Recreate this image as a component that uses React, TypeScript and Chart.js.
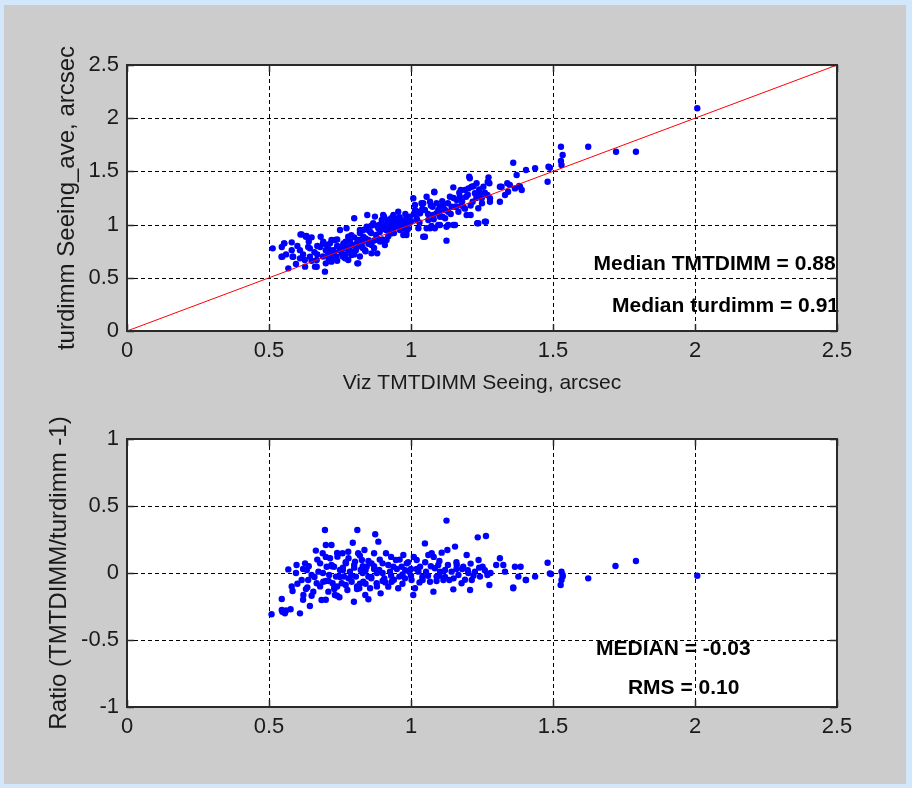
import React, { useEffect, useRef } from "react";
import { Chart, registerables } from "chart.js";
Chart.register(...registerables);

// ---------- data ----------
const xTickValues = [0, 0.5, 1, 1.5, 2, 2.5];
const topYTickValues = [0, 0.5, 1, 1.5, 2, 2.5];
const ratioYTickValues = [-1, -0.5, 0, 0.5, 1];

// Viz TMTDIMM seeing (x) and turdimm seeing_ave (y), arcsec
const tmtSeeing = [
  0.513, 0.545, 0.554, 0.547, 0.58, 0.568, 0.583, 0.595, 0.611, 0.609, 0.609, 0.63, 0.65, 0.638, 0.627, 0.644,
  0.662, 0.668, 0.682, 0.68, 0.697, 0.7, 0.691, 0.709, 0.715, 0.72, 0.726, 0.732, 0.738, 0.75, 0.748, 0.756,
  0.762, 0.768, 0.773, 0.779, 0.785, 0.791, 0.8, 0.797, 0.806, 0.811, 0.814, 0.82, 0.826, 0.832, 0.838, 0.844,
  0.846, 0.85, 0.856, 0.861, 0.867, 0.873, 0.877, 0.881, 0.885, 0.891, 0.897, 0.902, 0.908, 0.912, 0.917, 0.924,
  0.932, 0.938, 0.947, 0.955, 0.961, 0.967, 0.973, 0.979, 0.985, 0.994, 1.008, 1.014, 1.02, 1.026, 1.032, 1.037,
  1.043, 1.049, 1.055, 1.061, 1.067, 1.076, 1.082, 1.084, 1.09, 1.096, 1.102, 1.111, 1.12, 1.125, 1.131, 1.137,
  1.143, 1.149, 1.155, 1.161, 1.167, 1.175, 1.184, 1.194, 1.202, 1.205, 1.21, 1.217, 1.225, 1.231, 1.237, 1.237,
  1.243, 1.249, 1.255, 1.26, 1.269, 1.273, 1.276, 1.278, 1.313, 1.319, 1.331, 1.339, 1.36, 1.366, 1.372, 1.381,
  1.39, 1.405, 1.437, 1.484, 1.481, 2.008, 1.528, 1.534, 1.528, 1.53, 1.489, 1.624, 1.722, 1.792,
  0.544, 0.553, 0.585, 0.615, 0.632, 0.626, 0.644, 0.668, 0.703, 0.72, 0.732, 0.761, 0.773, 0.779, 0.814, 0.82,
  0.832, 0.861, 0.885, 0.905, 0.914, 0.938, 0.984, 0.984,
  1.384, 1.348, 1.342, 1.313, 1.278, 1.272, 1.264, 1.233, 1.207, 1.213, 1.172, 1.19, 1.196, 1.082, 1.125, 1.149,
  1.102, 1.072, 1.049, 1.055, 1.014, 1.043, 1.067, 1.096, 1.114, 1.131, 1.155, 1.178, 1.026, 0.996, 0.979, 0.984,
  0.973, 1.02, 1.078, 1.102,
  0.71, 0.74, 0.76, 0.79, 0.81, 0.83, 0.84, 0.86, 0.87, 0.89, 0.9, 0.92, 0.72, 0.74, 0.78, 0.8, 0.82, 0.85, 0.88,
  0.94, 0.96, 0.99, 0.95, 0.93,
  0.66, 0.67, 0.69, 0.7, 0.71, 0.73, 0.74, 0.75, 0.77, 0.77, 0.78, 0.79, 0.8, 0.81, 0.82, 0.83, 0.84, 0.85, 0.86,
  0.87, 0.88, 0.89, 0.9, 0.91, 0.92, 0.93, 0.94, 0.95, 0.96, 0.97, 0.98, 0.99, 1.0, 1.01, 1.03, 1.04, 1.06, 1.07,
  1.08, 1.09, 1.1, 1.11, 1.12, 1.13, 1.14, 1.15, 1.16, 1.17, 1.18, 1.19, 1.2, 1.21, 1.22, 1.23, 1.24, 1.25, 1.26,
  1.27, 0.6, 0.62, 0.64, 0.65, 0.67, 0.69, 0.58, 0.56,
];
const turSeeing = [
  0.777, 0.79, 0.824, 0.699, 0.833, 0.589, 0.699, 0.63, 0.908, 0.76, 0.683, 0.886, 0.88, 0.79, 0.605, 0.699,
  0.605, 0.667, 0.886, 0.79, 0.558, 0.636, 0.84, 0.73, 0.824, 0.652, 0.76, 0.855, 0.699, 0.949, 0.79, 0.73,
  0.824, 0.683, 0.777, 0.886, 0.84, 0.714, 1.059, 0.808, 0.76, 0.636, 0.855, 0.949, 0.808, 0.886, 0.76, 0.98,
  1.09, 0.855, 0.933, 0.808, 1.012, 1.075, 0.902, 0.73, 0.965, 0.84, 1.043, 1.09, 0.808, 0.949, 1.043, 0.98,
  0.918, 1.08, 1.012, 1.121, 0.949, 1.043, 0.902, 0.98, 1.075, 1.012, 1.247, 1.137, 1.059, 0.965, 1.106, 1.2,
  0.886, 1.137, 1.262, 1.043, 0.965, 1.168, 1.303, 0.965, 1.106, 0.996, 1.168, 1.075, 1.137, 0.849, 0.996, 1.262,
  1.168, 1.35, 0.996, 1.231, 1.121, 1.325, 1.168, 1.262, 1.34, 1.45, 1.09, 1.215, 1.294, 1.388, 1.153, 1.012,
  1.294, 1.247, 1.356, 1.028, 1.278, 1.444, 1.388, 1.215, 1.215, 1.356, 1.278, 1.388, 1.582, 1.34, 1.466, 1.363,
  1.325, 1.513, 1.529, 1.544, 1.403, 2.093, 1.732, 1.654, 1.598, 1.56, 1.535, 1.732, 1.685, 1.685,
  0.698, 0.824, 0.698, 0.908, 0.893, 0.667, 0.777, 0.604, 0.808, 0.855, 0.698, 0.777, 0.965, 0.667, 0.636, 0.855,
  0.949, 0.73, 0.855, 1.075, 0.855, 1.09, 1.027, 0.902,
  1.356, 1.372, 1.309, 1.356, 1.247, 1.404, 1.027, 1.012, 1.435, 1.356, 1.262, 1.325, 1.09, 1.309, 0.98, 0.996,
  0.996, 0.987, 0.886, 0.965, 1.184, 1.2, 1.215, 1.137, 1.184, 1.121, 1.168, 1.184, 1.121, 1.074, 1.012, 0.933,
  0.965, 1.043, 1.09, 1.074,
  0.77, 0.8, 0.7, 0.75, 0.83, 0.78, 0.87, 0.92, 0.85, 0.93, 0.96, 0.89, 0.71, 0.66, 0.8, 0.88, 0.92, 0.95, 0.99,
  0.97, 1.0, 1.05, 1.05, 1.02,
  0.74, 0.8, 0.7, 0.76, 0.68, 0.74, 0.86, 0.76, 0.72, 0.84, 0.76, 0.9, 0.72, 0.79, 0.7, 0.84, 0.75, 0.82, 0.99,
  0.78, 0.87, 1.0, 0.86, 1.0, 0.95, 1.06, 0.92, 0.99, 1.07, 1.02, 1.1, 0.96, 1.03, 1.1, 1.02, 1.15, 1.1, 1.18,
  1.05, 1.2, 1.12, 1.22, 1.06, 1.2, 1.1, 1.25, 1.17, 1.3, 1.22, 1.15, 1.28, 1.18, 1.36, 1.25, 1.33, 1.2, 1.3,
  1.4, 0.8, 0.72, 0.84, 0.66, 0.72, 0.82, 0.76, 0.72,
];

// Ratio panel: x = TMTDIMM seeing, y = TMTDIMM/turdimm - 1
const ratioSeeing = [
  0.509, 0.545, 0.55, 0.545, 0.556, 0.576, 0.568, 0.583, 0.595, 0.597, 0.609, 0.615, 0.621, 0.627, 0.633, 0.635,
  0.638, 0.644, 0.65, 0.656, 0.665, 0.668, 0.674, 0.68, 0.685, 0.689, 0.691, 0.697, 0.7, 0.703, 0.709, 0.712,
  0.715, 0.72, 0.724, 0.729, 0.732, 0.736, 0.741, 0.748, 0.75, 0.756, 0.759, 0.764, 0.771, 0.776, 0.779, 0.785,
  0.791, 0.795, 0.799, 0.803, 0.806, 0.811, 0.814, 0.818, 0.823, 0.827, 0.832, 0.836, 0.839, 0.844, 0.85, 0.85,
  0.856, 0.861, 0.87, 0.874, 0.879, 0.885, 0.888, 0.893, 0.9, 0.906, 0.912, 0.92, 0.926, 0.932, 0.938, 0.947,
  0.955, 0.959, 0.967, 0.973, 0.979, 0.985, 0.994, 1.002, 1.008, 1.014, 1.02, 1.026, 1.032, 1.041, 1.049, 1.053,
  1.061, 1.067, 1.073, 1.079, 1.084, 1.09, 1.096, 1.102, 1.108, 1.114, 1.12, 1.125, 1.128, 1.135, 1.143, 1.149,
  1.155, 1.161, 1.167, 1.178, 1.184, 1.196, 1.202, 1.208, 1.214, 1.225, 1.235, 1.238, 1.243, 1.252, 1.264, 1.269,
  1.276, 1.313, 1.325, 1.331, 1.36, 1.366, 1.378, 1.386, 1.405, 1.437, 1.481, 1.493, 1.53, 1.53, 1.527, 1.534,
  1.624, 1.72, 1.792, 2.008, 1.489, 1.534, 1.404, 1.36,
  0.7, 0.72, 0.74, 0.76, 0.78, 0.8, 0.82, 0.84, 0.86, 0.88, 0.9, 0.73, 0.77, 0.81, 0.83, 0.87, 0.93, 0.97, 1.0,
  1.04, 1.1, 1.16, 1.2,
  0.6, 0.62, 0.63, 0.64, 0.66, 0.67, 0.68, 0.69, 0.7, 0.71, 0.72, 0.73, 0.74, 0.75, 0.76, 0.77, 0.78, 0.79, 0.8,
  0.81, 0.82, 0.83, 0.84, 0.85, 0.86, 0.87, 0.88, 0.89, 0.9, 0.91, 0.92, 0.93, 0.94, 0.95, 0.96, 0.97, 0.98, 0.99,
  1.0, 1.01, 1.02, 1.03, 1.05, 1.06, 1.07, 1.08, 1.09, 1.1, 1.12, 1.13, 1.15, 1.16, 1.18, 1.19, 1.21, 1.22, 1.24,
  1.26, 1.28, 1.3, 0.65, 0.7, 0.58, 0.62, 0.74, 0.547, 0.56,
];
const ratioValue = [
  -0.308, -0.194, -0.288, -0.276, -0.301, -0.271, 0.027, -0.134, 0.0, 0.06, -0.301, -0.052, -0.164, 0.072, 0.022, -0.107,
  -0.052, -0.246, -0.015, -0.139, 0.167, -0.077, 0.01, 0.072, -0.201, 0.147, -0.065, 0.321, 0.209, 0.047, -0.139, -0.015,
  0.11, 0.209, -0.077, 0.047, -0.164, -0.027, 0.122, -0.181, 0.022, -0.077, 0.147, -0.027, 0.072, -0.127, 0.159, 0.01,
  -0.065, 0.226, -0.214, 0.085, -0.027, 0.321, 0.147, -0.114, 0.022, 0.097, -0.065, 0.172, -0.164, 0.047, -0.027, -0.196,
  -0.114, 0.072, 0.147, 0.289, -0.077, 0.234, 0.022, -0.152, 0.072, -0.04, 0.147, -0.102, 0.01, -0.065, 0.047, 0.097,
  -0.114, -0.027, 0.047, 0.134, -0.04, 0.072, 0.01, -0.052, -0.164, -0.114, 0.097, 0.01, 0.047, -0.052, 0.221, 0.01,
  0.134, -0.065, 0.147, -0.139, 0.035, -0.027, 0.06, 0.01, 0.152, -0.052, 0.022, 0.391, 0.172, -0.052, 0.01, -0.122,
  0.197, 0.06, -0.015, -0.077, 0.047, 0.134, 0.0, -0.127, -0.052, 0.01, 0.266, 0.097, -0.027, 0.047, 0.276, -0.015,
  -0.089, 0.11, 0.06, 0.01, -0.114, 0.047, -0.027, 0.047, -0.052, -0.027, 0.077, -0.007, 0.01, -0.052, -0.089, -0.027,
  -0.04, 0.052, 0.09, -0.02, -0.003, -0.015, -0.052, -0.107,
  -0.06, 0.05, -0.1, 0.02, -0.04, 0.04, -0.08, 0.02, -0.03, 0.0, -0.06, -0.12, 0.08, -0.1, 0.05, 0.03, -0.02, -0.01, 0.03,
  -0.03, -0.02, 0.03, 0.02,
  -0.08, 0.03, -0.12, 0.05, -0.03, 0.1, -0.1, 0.0, 0.12, -0.06, 0.06, -0.11, 0.15, -0.03, 0.04, -0.09, 0.11, -0.02, 0.06,
  -0.12, 0.13, 0.0, -0.08, 0.09, -0.04, 0.05, -0.1, 0.1, 0.0, -0.07, 0.06, 0.12, -0.05, 0.03, 0.1, -0.08, 0.02, 0.08,
  -0.02, 0.12, 0.03, -0.07, 0.08, -0.02, 0.05, 0.12, -0.06, 0.09, -0.03, 0.06, -0.04, 0.08, 0.03, -0.05, 0.07, -0.02, 0.04,
  0.02, 0.0, 0.06, -0.17, -0.2, -0.1, -0.2, -0.17, -0.29, -0.28,
];

const identityLine = [0, 2.5];

const topNotes = ["Median TMTDIMM = 0.88", "Median turdimm = 0.91"];
const topNoteX = [2.495, 2.507];
const topNoteY = [0.63, 0.235];
const ratioNotes = ["MEDIAN = -0.03", "RMS = 0.10"];
const ratioNoteX = [1.924, 1.96];
const ratioNoteY = [-0.567, -0.858];

// ---------- styling ----------
const SANS = "'Liberation Sans',Arial,Helvetica,sans-serif";
const TEXT = "#1a1a1a";

const framePlugin = {
  id: "frame",
  beforeDraw(chart: any) {
    const { ctx, chartArea } = chart;
    const { left, top, right, bottom } = chartArea;
    ctx.save();
    ctx.fillStyle = "#ffffff";
    ctx.fillRect(left, top, right - left, bottom - top);
    ctx.restore();
  },
  beforeDatasetsDraw(chart: any) {
    const { ctx, chartArea, scales } = chart;
    const { left, top, right, bottom } = chartArea;
    ctx.save();
    ctx.strokeStyle = "#000000";
    ctx.lineWidth = 1;
    ctx.setLineDash([4, 3]);
    for (const t of scales.x.ticks) {
      const px = Math.round(scales.x.getPixelForValue(t.value)) + 0.5;
      if (px <= left + 2 || px >= right - 2) continue;
      ctx.beginPath();
      ctx.moveTo(px, top);
      ctx.lineTo(px, bottom);
      ctx.stroke();
    }
    for (const t of scales.y.ticks) {
      const py = Math.round(scales.y.getPixelForValue(t.value)) + 0.5;
      if (py <= top + 2 || py >= bottom - 2) continue;
      ctx.beginPath();
      ctx.moveTo(left, py);
      ctx.lineTo(right, py);
      ctx.stroke();
    }
    ctx.restore();
  },
  afterDatasetsDraw(chart: any, _args: any, opts: any) {
    const { ctx, scales } = chart;
    ctx.save();
    ctx.fillStyle = "#000000";
    ctx.font = `bold 21px ${SANS}`;
    ctx.textBaseline = "middle";
    const notes = opts.notes || [];
    notes.forEach((n: any) => {
      ctx.textAlign = n.align;
      ctx.fillText(n.text, scales.x.getPixelForValue(n.x), scales.y.getPixelForValue(n.y));
    });
    ctx.restore();
  },
  afterDraw(chart: any) {
    const { ctx, chartArea, scales } = chart;
    const { left, top, right, bottom } = chartArea;
    ctx.save();
    ctx.strokeStyle = "#2a2a2a";
    ctx.lineWidth = 1.5;
    ctx.setLineDash([]);
    const tl = 7;
    for (const t of scales.x.ticks) {
      const px = Math.round(scales.x.getPixelForValue(t.value)) + 0.5;
      ctx.beginPath();
      ctx.moveTo(px, bottom);
      ctx.lineTo(px, bottom - tl);
      ctx.moveTo(px, top);
      ctx.lineTo(px, top + tl);
      ctx.stroke();
    }
    for (const t of scales.y.ticks) {
      const py = Math.round(scales.y.getPixelForValue(t.value)) + 0.5;
      ctx.beginPath();
      ctx.moveTo(left, py);
      ctx.lineTo(left + tl, py);
      ctx.moveTo(right, py);
      ctx.lineTo(right - tl, py);
      ctx.stroke();
    }
    ctx.lineWidth = 2;
    ctx.strokeRect(left, top, right - left, bottom - top);
    ctx.restore();
  },
};

const fmt = (v: any) => String(Number(v));

function makeAxes(yTicks: number[], xTitle: string | null, yTitle: string, xHeight: number, yTitlePad: number) {
  return {
    x: {
      type: "linear",
      min: xTickValues[0],
      max: xTickValues[xTickValues.length - 1],
      afterBuildTicks: (s: any) => {
        s.ticks = xTickValues.map((v) => ({ value: v }));
      },
      afterFit: (s: any) => {
        s.height = xHeight;
      },
      grid: { display: false, drawTicks: false },
      border: { display: false },
      ticks: { color: TEXT, padding: 7, font: { family: SANS, size: 22 }, maxRotation: 0, autoSkip: false, callback: fmt },
      title: xTitle
        ? { display: true, text: xTitle, color: TEXT, font: { family: SANS, size: 21 }, padding: { top: 0, bottom: 4 } }
        : { display: false },
    },
    y: {
      type: "linear",
      min: yTicks[0],
      max: yTicks[yTicks.length - 1],
      afterBuildTicks: (s: any) => {
        s.ticks = yTicks.map((v) => ({ value: v }));
      },
      afterFit: (s: any) => {
        s.width = 127;
      },
      grid: { display: false, drawTicks: false },
      border: { display: false },
      ticks: { color: TEXT, padding: 8, font: { family: SANS, size: 22 }, autoSkip: false, callback: fmt },
      title: { display: true, text: yTitle, color: TEXT, font: { family: SANS, size: 24 }, padding: { top: yTitlePad, bottom: 0 } },
    },
  };
}

function useChart(ref: React.RefObject<HTMLCanvasElement>, build: () => any) {
  useEffect(() => {
    if (!ref.current) return;
    const chart = new Chart(ref.current, build());
    return () => chart.destroy();
  }, []);
}

export default function App() {
  const topRef = useRef<HTMLCanvasElement>(null);
  const botRef = useRef<HTMLCanvasElement>(null);

  useChart(topRef, () => ({
    type: "scatter",
    data: {
      datasets: [
        {
          type: "line",
          data: identityLine.map((v) => ({ x: v, y: v })),
          borderColor: "#ff0000",
          borderWidth: 1,
          pointRadius: 0,
          fill: false,
          order: 0,
        },
        {
          data: tmtSeeing.map((x, i) => ({ x, y: turSeeing[i] })),
          backgroundColor: "#0000ff",
          borderWidth: 0,
          pointRadius: 3.2,
          order: 1,
        },
      ],
    },
    options: {
      animation: false,
      responsive: false,
      devicePixelRatio: 1,
      layout: { padding: { top: 65, right: 75, left: 0, bottom: 0 } },
      plugins: {
        legend: { display: false },
        tooltip: { enabled: false },
        frame: {
          notes: topNotes.map((t, i) => ({ text: t, x: topNoteX[i], y: topNoteY[i], align: "right" })),
        },
      },
      scales: makeAxes(topYTickValues, "Viz TMTDIMM Seeing, arcsec", "turdimm Seeing_ave, arcsec", 69, 53),
    },
    plugins: [framePlugin],
  }));

  useChart(botRef, () => ({
    type: "scatter",
    data: {
      datasets: [
        {
          data: ratioSeeing.map((x, i) => ({ x, y: ratioValue[i] })),
          backgroundColor: "#0000ff",
          borderWidth: 0,
          pointRadius: 3.2,
        },
      ],
    },
    options: {
      animation: false,
      responsive: false,
      devicePixelRatio: 1,
      layout: { padding: { top: 39, right: 75, left: 0, bottom: 0 } },
      plugins: {
        legend: { display: false },
        tooltip: { enabled: false },
        frame: {
          notes: ratioNotes.map((t, i) => ({ text: t, x: ratioNoteX[i], y: ratioNoteY[i], align: "center" })),
        },
      },
      scales: makeAxes(ratioYTickValues, null, "Ratio (TMTDIMM/turdimm -1)", 81, 45),
    },
    plugins: [framePlugin],
  }));

  return (
    <div style={{ position: "fixed", left: 0, top: 0, width: 912, height: 788, background: "#d3e7fb", overflow: "hidden" }}>
      <div style={{ position: "absolute", left: 4, top: 5, width: 902, height: 779, background: "#cccccc" }} />
      <canvas ref={topRef} width={912} height={400} style={{ position: "absolute", left: 0, top: 0, width: 912, height: 400 }} />
      <canvas ref={botRef} width={912} height={388} style={{ position: "absolute", left: 0, top: 400, width: 912, height: 388 }} />
    </div>
  );
}
